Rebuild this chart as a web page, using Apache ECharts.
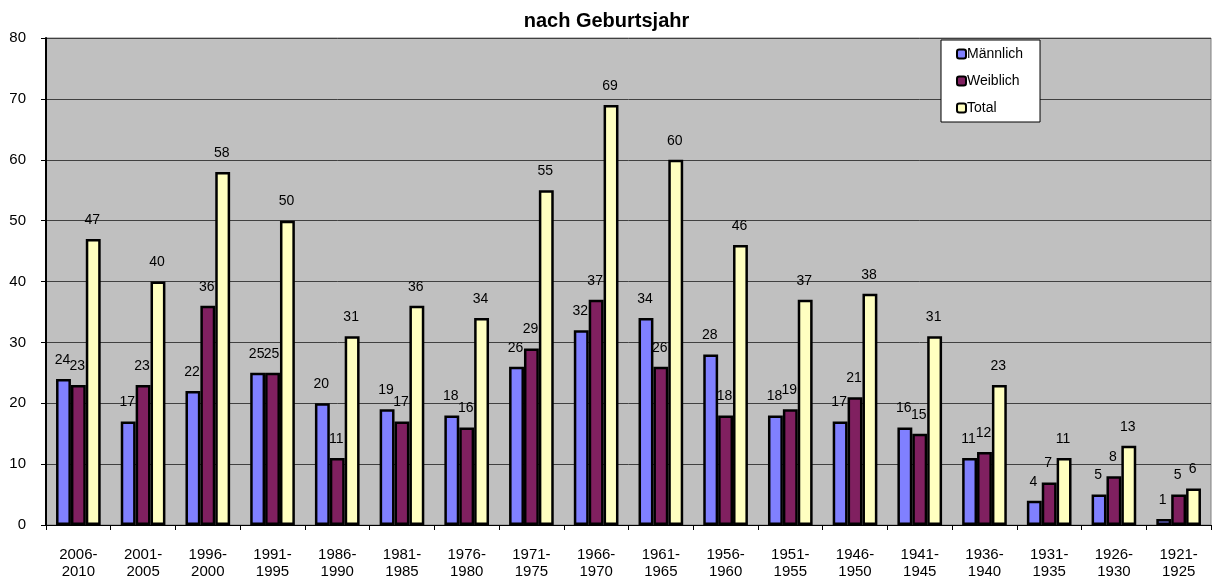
<!DOCTYPE html>
<html>
<head>
<meta charset="utf-8">
<script src="https://cdn.jsdelivr.net/npm/echarts@6/dist/echarts.min.js"></script>
<style>
  html, body { margin: 0; padding: 0; background: #fff; }
  #chart { width: 1213px; height: 580px; }
</style>
</head>
<body>
<div id="chart"></div>
<script>
// categories (birth year ranges)
var categories = ['2006-\n2010', '2001-\n2005', '1996-\n2000', '1991-\n1995', '1986-\n1990',
  '1981-\n1985', '1976-\n1980', '1971-\n1975', '1966-\n1970', '1961-\n1965', '1956-\n1960',
  '1951-\n1955', '1946-\n1950', '1941-\n1945', '1936-\n1940', '1931-\n1935', '1926-\n1930',
  '1921-\n1925'];

var maennlich = [24, 17, 22, 25, 20, 19, 18, 26, 32, 34, 28, 18, 17, 16, 11, 4, 5, 1];
var weiblich = [23, 23, 36, 25, 11, 17, 16, 29, 37, 26, 18, 19, 21, 15, 12, 7, 8, 5];
var total = [47, 40, 58, 50, 31, 36, 34, 55, 69, 60, 46, 37, 38, 31, 23, 11, 13, 6];

var FONT = 'Liberation Sans, Arial, sans-serif';

function barSeries(name, data, color) {
  return {
    name: name,
    type: 'bar',
    data: data,
    barGap: '0%',
    barCategoryGap: '31%',
    itemStyle: {
      color: color,
      borderColor: '#000',
      borderWidth: 2.5
    },
    label: {
      show: true,
      position: 'top',
      distance: 12,
      offset: [-1, 0],
      color: '#000',
      fontFamily: FONT,
      fontSize: 14
    }
  };
}

var chart = echarts.init(document.getElementById('chart'));
chart.setOption({
  backgroundColor: '#fff',
  animation: false,
  title: {
    text: 'nach Geburtsjahr',
    left: 'center',
    top: 6,
    textStyle: { fontFamily: FONT, fontSize: 20, fontWeight: 'bold', color: '#000' }
  },
  legend: {
    orient: 'vertical',
    left: 941,
    top: 40,
    padding: [6, 17, 6, 15],
    itemGap: 11,
    itemWidth: 9,
    itemHeight: 9,
    borderColor: '#000',
    borderWidth: 1,
    backgroundColor: '#fff',
    textStyle: { fontFamily: FONT, fontSize: 14, lineHeight: 16, color: '#000', padding: [0, 0, 0, -4] },
    data: ['Männlich', 'Weiblich', 'Total'],
    itemStyle: { borderColor: '#000', borderWidth: 2 }
  },
  grid: {
    left: 46,
    right: 2,
    top: 38,
    bottom: 53,
    show: true,
    backgroundColor: '#c0c0c0',
    borderColor: '#808080',
    borderWidth: 1
  },
  xAxis: {
    type: 'category',
    data: categories,
    axisLine: { lineStyle: { color: '#000', width: 1 } },
    axisTick: { show: true, length: 5, lineStyle: { color: '#000' } },
    axisLabel: {
      interval: 0,
      margin: 21,
      color: '#000',
      fontFamily: FONT,
      fontSize: 15,
      lineHeight: 17
    }
  },
  yAxis: {
    type: 'value',
    min: 0,
    max: 80,
    interval: 10,
    axisLine: { show: true, lineStyle: { color: '#000', width: 2 } },
    axisTick: { show: true, length: 5, lineStyle: { color: '#000' } },
    splitLine: { lineStyle: { color: '#404040', width: 1 } },
    axisLabel: {
      margin: 20,
      color: '#000',
      fontFamily: FONT,
      fontSize: 15
    }
  },
  series: [
    barSeries('Männlich', maennlich, '#8080ff'),
    barSeries('Weiblich', weiblich, '#802060'),
    barSeries('Total', total, '#ffffc0')
  ]
});
</script>
</body>
</html>
